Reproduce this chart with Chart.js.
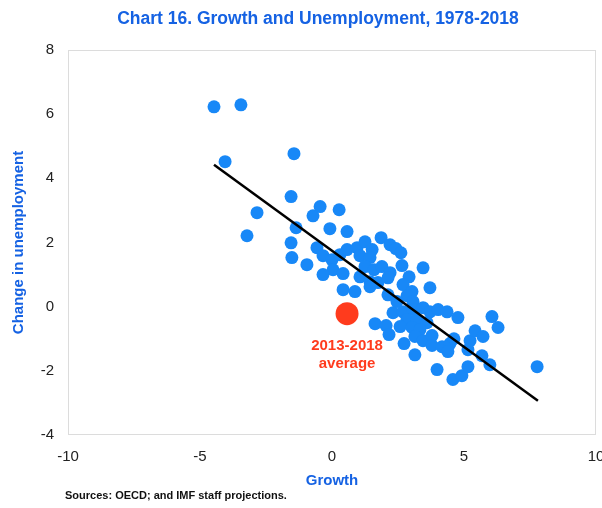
<!DOCTYPE html>
<html>
<head>
<meta charset="utf-8">
<script src="https://cdn.jsdelivr.net/npm/chart.js@4.4.1/dist/chart.umd.min.js"></script>
<style>
  html, body { margin: 0; padding: 0; background: #fff; }
</style>
</head>
<body>
<canvas id="growthChart" width="602" height="508"></canvas>
<script>
// values
const growth = [
  -4.47, -3.45, -4.05, -1.44, -1.55, -2.84, -3.22, -1.36, -1.55, -1.52,
  -0.45, -0.72, 0.27, -0.08, 0.57, -0.57, -0.95, -0.34, 0.00, 0.30,
  0.57, 0.95, 1.25, 1.52, 1.86, 2.20, 2.42, 2.61, 1.06, 1.44,
  0.04, 0.42, 1.25, 1.59, 1.89, 2.20, 2.65, 3.45, 2.92, 1.06,
  1.44, 1.74, 2.12, -0.34, 0.42, 0.87, 1.44, 2.12, 2.69, 3.03,
  3.71, 2.84, 3.07, 2.46, 1.63, 2.05, 2.16, 2.31, 2.69, 3.07,
  3.45, 3.71, 4.02, 4.36, 4.77, 2.84, 3.22, 3.60, 2.58, 3.03,
  3.33, 2.73, 3.14, 3.14, 3.45, 3.79, 3.79, 4.17, 4.47, 4.62,
  4.39, 5.23, 5.42, 5.72, 6.06, 6.29, 5.15, 5.68, 5.98, 3.98,
  4.58, 4.92, 5.15, 7.77
];
const unemploymentChange = [
  6.23, 6.29, 4.52, 4.77, 3.43, 2.93, 2.21, 2.46, 1.99, 1.53,
  3.12, 2.83, 3.02, 2.43, 2.34, 1.84, 1.31, 1.59, 1.46, 1.62,
  1.78, 1.84, 2.02, 1.78, 2.15, 1.93, 1.81, 1.68, 1.59, 1.53,
  1.15, 1.03, 1.25, 1.15, 1.25, 1.06, 1.28, 1.21, 0.93, 0.93,
  0.78, 0.75, 0.90, 1.00, 0.53, 0.47, 0.62, 0.37, 0.69, 0.47,
  0.59, 0.34, 0.16, 0.16, -0.53, -0.59, -0.87, -0.19, -0.16, -0.09,
  -0.03, -0.16, -0.09, -0.16, -0.34, -0.40, -0.40, -0.50, -0.62, -0.65,
  -0.72, -1.15, -0.93, -1.50, -1.06, -0.90, -1.21, -1.25, -1.15, -1.00,
  -1.40, -1.06, -0.75, -0.93, -0.31, -0.65, -1.34, -1.53, -1.81, -1.96,
  -2.27, -2.15, -1.87, -1.87
];
const fitX = [-4.47, 7.8];
const fitY = [4.42, -2.93];
const averageX = [0.57];
const averageY = [-0.22];
const averageLabel = ['2013-2018', 'average'];
const xTicks = [-10, -5, 0, 5, 10];
const yTicks = [-4, -2, 0, 2, 4, 6, 8];

const blue = '#1888f7';
const titleBlue = '#1562e3';
const red = '#ff3b1d';
const family = '"Liberation Sans", Arial, Helvetica, sans-serif';
Chart.defaults.font.family = family;

const extras = {
  id: 'extras',
  beforeDatasetsDraw(chart) {
    const {ctx, chartArea: a} = chart;
    ctx.save();
    ctx.strokeStyle = '#dcdcdc';
    ctx.lineWidth = 1;
    ctx.strokeRect(a.left + 0.5, a.top + 0.5, a.right - a.left - 1, a.bottom - a.top - 1);
    ctx.restore();
  },
  afterDraw(chart) {
    const {ctx} = chart;
    ctx.save();
    ctx.textBaseline = 'middle';
    ctx.textAlign = 'center';
    ctx.fillStyle = titleBlue;
    ctx.font = 'bold 17.5px ' + family;
    ctx.fillText('Chart 16. Growth and Unemployment, 1978-2018', 318, 19);

    // label under the red dot
    const px = chart.scales.x.getPixelForValue(averageX[0]);
    const py = chart.scales.y.getPixelForValue(averageY[0]);
    ctx.fillStyle = red;
    ctx.font = 'bold 15px ' + family;
    ctx.fillText(averageLabel[0], px, py + 32);
    ctx.fillText(averageLabel[1], px, py + 50);

    ctx.textAlign = 'left';
    ctx.fillStyle = '#111';
    ctx.font = 'bold 11px ' + family;
    ctx.fillText('Sources: OECD; and IMF staff projections.', 65, 496);
    ctx.restore();
  }
};

new Chart(document.getElementById('growthChart'), {
  type: 'scatter',
  data: {
    datasets: [{
      label: '2013-2018 average',
      data: averageX.map((x, i) => ({x: x, y: averageY[i]})),
      backgroundColor: red,
      borderWidth: 0,
      pointRadius: 11.5,
      order: 0
    }, {
      type: 'line',
      label: 'fit',
      data: fitX.map((x, i) => ({x: x, y: fitY[i]})),
      borderColor: '#000',
      borderWidth: 2.5,
      pointRadius: 0,
      fill: false,
      order: 1
    }, {
      label: 'Countries',
      data: growth.map((x, i) => ({x: x, y: unemploymentChange[i]})),
      backgroundColor: blue,
      borderWidth: 0,
      pointRadius: 6.5,
      order: 2
    }]
  },
  options: {
    responsive: false,
    animation: false,
    layout: {autoPadding: false, padding: {top: 50, right: 6, bottom: 18, left: 0}},
    plugins: {
      legend: {display: false},
      tooltip: {enabled: false}
    },
    scales: {
      x: {
        type: 'linear',
        min: -10,
        max: 10,
        grid: {display: false, drawTicks: false},
        border: {display: false},
        ticks: {color: '#222', font: {size: 15}, padding: 13},
        afterBuildTicks: s => { s.ticks = xTicks.map(v => ({value: v})); },
        afterFit: s => { s.height = 55; s.paddingLeft = 0; s.paddingRight = 0; },
        title: {
          display: true,
          text: 'Growth',
          color: titleBlue,
          font: {size: 15, weight: 'bold'},
          padding: {top: 0, bottom: 0}
        }
      },
      y: {
        type: 'linear',
        min: -4,
        max: 8,
        grid: {display: false, drawTicks: false},
        border: {display: false},
        ticks: {color: '#222', font: {size: 15}, padding: 14},
        afterBuildTicks: s => { s.ticks = yTicks.map(v => ({value: v})); },
        afterFit: s => { s.width = 68; s.paddingTop = 0; s.paddingBottom = 0; },
        title: {
          display: true,
          text: 'Change in unemployment',
          color: titleBlue,
          font: {size: 15, weight: 'bold'},
          padding: {top: 10, bottom: 0}
        }
      }
    }
  },
  plugins: [extras]
});
</script>
</body>
</html>
